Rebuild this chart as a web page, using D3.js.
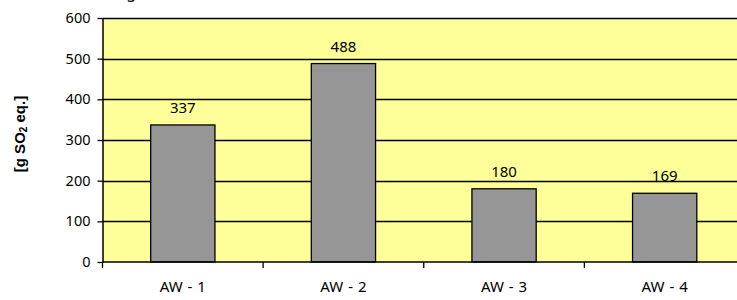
<!DOCTYPE html>
<html>
<head>
<meta charset="utf-8">
<script src="https://cdn.jsdelivr.net/npm/d3@7"></script>
<style>
  body { margin: 0; background: #fff; }
  text { font-family: "Noto Sans", sans-serif; fill: #000; }
</style>
</head>
<body>
<div id="chart"></div>
<script>
const categories = ["AW - 1", "AW - 2", "AW - 3", "AW - 4"];
const values = [337, 488, 180, 169];
const yTicks = [0, 100, 200, 300, 400, 500, 600];

const margin = { top: 18, right: -8, bottom: 38, left: 102.5 };
const width = 737 - margin.left - margin.right;
const height = 300 - margin.top - margin.bottom;

const svg = d3.select("#chart")
  .append("svg")
  .attr("width", 737)
  .attr("height", 300);

// title, cut off at the top of the picture
svg.append("text")
  .attr("x", 136)
  .attr("y", -2)
  .attr("text-anchor", "end")
  .style("font-size", "16px")
  .text("Versauerung");

const g = svg.append("g")
  .attr("transform", `translate(${margin.left}, ${margin.top})`);

const xScale = d3.scaleBand()
  .domain(categories)
  .range([0, width])
  .paddingInner(0.6)
  .paddingOuter(0.3);

const yScale = d3.scaleLinear()
  .domain([0, 600])
  .range([height, 0]);

g.append("rect")
  .attr("width", width)
  .attr("height", height)
  .attr("fill", "#ffff99");

g.selectAll(".grid")
  .data(yTicks.slice(1))
  .enter()
  .append("line")
  .attr("class", "grid")
  .attr("x1", 0)
  .attr("x2", width)
  .attr("y1", d => Math.round(yScale(d)) + 0.5)
  .attr("y2", d => Math.round(yScale(d)) + 0.5)
  .attr("stroke", "#000")
  .attr("stroke-width", 1.3);

g.selectAll(".bar")
  .data(values)
  .enter()
  .append("rect")
  .attr("class", "bar")
  .attr("x", (d, i) => xScale(categories[i]))
  .attr("y", d => yScale(d))
  .attr("width", xScale.bandwidth())
  .attr("height", d => height - yScale(d))
  .attr("fill", "#969696")
  .attr("stroke", "#000")
  .attr("stroke-width", 1.3);

g.selectAll(".val")
  .data(values)
  .enter()
  .append("text")
  .attr("class", "val")
  .attr("x", (d, i) => xScale(categories[i]) + xScale.bandwidth() / 2)
  .attr("y", d => yScale(d) - 12)
  .attr("text-anchor", "middle")
  .style("font-size", "15px")
  .text(d => d);

// y axis
const yAxis = d3.axisLeft(yScale)
  .tickValues(yTicks)
  .tickSize(5)
  .tickPadding(7)
  .tickSizeOuter(0);
const yG = g.append("g").call(yAxis);
yG.select(".domain").attr("stroke-width", 1.5);
yG.selectAll(".tick line").attr("stroke-width", 1.3);
yG.selectAll("text")
  .style("font-size", "14.5px")
  .style("font-family", "'Noto Sans', sans-serif")
  .attr("fill", "#000");

// x axis with ticks at category boundaries
const step = xScale.step();
const bounds = categories.map((c, i) => i * step);
const xG = g.append("g").attr("transform", `translate(0, ${height})`);
xG.append("line")
  .attr("x1", 0)
  .attr("x2", width)
  .attr("stroke", "#000")
  .attr("stroke-width", 1.5);
xG.selectAll(".xt")
  .data(bounds)
  .enter()
  .append("line")
  .attr("x1", d => d)
  .attr("x2", d => d)
  .attr("y1", 0)
  .attr("y2", 6)
  .attr("stroke", "#000")
  .attr("stroke-width", 1.3);
xG.selectAll(".xl")
  .data(categories)
  .enter()
  .append("text")
  .attr("x", d => xScale(d) + xScale.bandwidth() / 2)
  .attr("y", 30)
  .attr("text-anchor", "middle")
  .style("font-size", "15px")
  .style("word-spacing", "1px")
  .text(d => d);

// y axis title
svg.append("text")
  .attr("transform", `translate(25, ${margin.top + height / 2 - 6}) rotate(-90)`)
  .attr("text-anchor", "middle")
  .style("font-family", "'Liberation Sans', Arial, sans-serif")
  .style("font-weight", "bold")
  .style("font-size", "15px")
  .html('[g SO<tspan font-size="10px" dy="2">2</tspan><tspan dy="-2"> eq.]</tspan>');
</script>
</body>
</html>
